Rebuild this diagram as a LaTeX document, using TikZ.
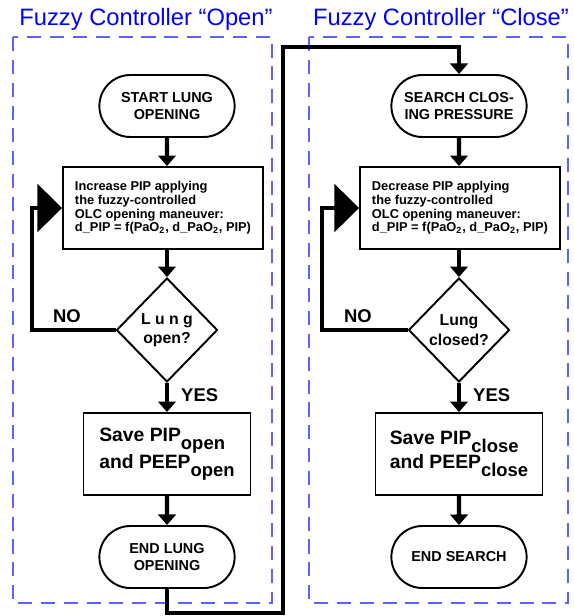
\documentclass[tikz,border=0pt]{standalone}
\usepackage{fontspec}
\setmainfont{Liberation Sans}
\usetikzlibrary{arrows.meta,positioning,shapes.geometric,shapes.misc}
\definecolor{frameblue}{RGB}{96,96,255}
\newcommand{\lowtxt}[1]{\raisebox{-4.5pt}{\fontsize{10.5}{11}\selectfont #1}}

\begin{document}
\begin{tikzpicture}[
  x=0.02cm, y=-0.02cm,
  flow/.style={-{Triangle[width=10pt,length=6pt]}, line width=2.3pt},
  back/.style={-{Triangle[width=27pt,length=14pt]}, line width=2.3pt},
  term/.style={rounded rectangle, draw, line width=1.1pt, minimum width=2.94cm, minimum height=1.24cm, align=center, font=\fontsize{8.2}{10}\selectfont\bfseries},
  proc/.style={rectangle, draw, line width=1.1pt, minimum width=4cm, minimum height=1.64cm, align=left, font=\fontsize{7.3}{7.8}\selectfont\bfseries},
  test/.style={diamond, draw, line width=1.1pt, minimum width=2.02cm, minimum height=2.08cm, inner sep=0pt, align=center, font=\fontsize{9}{11}\selectfont\bfseries},
  savebox/.style={rectangle, draw, line width=1.1pt, minimum width=3.34cm, minimum height=1.64cm, align=left, font=\fontsize{11}{12.5}\selectfont\bfseries},
  answer/.style={font=\fontsize{10.5}{12}\selectfont\bfseries},
  ctrlframe/.style={draw=frameblue, line width=1.1pt, dash pattern=on 8pt off 5pt},
  heading/.style={text=blue, font=\fontsize{13.5}{15}\selectfont}
]
  \useasboundingbox (0,0) rectangle (574,616);

  % controller "Open"
  \begin{scope}[shift={(0,0)}]
    \draw[ctrlframe] (13,37) rectangle (272,603);
    \node[heading] (hopen) at (146,19) {Fuzzy Controller “Open”};
    \node[term] (start) at (167,106) {START LUNG\\OPENING};
    \node[proc] (incr) at (163,208) {Increase PIP applying\\the fuzzy-controlled\\OLC opening maneuver:\\d\_PIP = f(PaO\textsubscript{2}, d\_PaO\textsubscript{2}, PIP)};
    \node[test] (qopen) at (167,330) {L u n g\\open?};
    \node[savebox] (saveo) at (167,454) {Save PIP\lowtxt{open}\\and PEEP\lowtxt{open}};
    \node[term] (endo) at (167,557) {END LUNG\\OPENING};
    \node[answer] (noo) at (67,316) {NO};
    \node[answer, anchor=west] (yeso) at (175,395) {YES};

    \draw[flow] (start) -- (incr.north -| start);
    \draw[flow] (incr.south -| qopen) -- (qopen);
    \draw[flow] (qopen) -- (saveo);
    \draw[flow] (saveo) -- (endo);
    \draw[back] (qopen.west) -- ++(-84,0) |- (incr.west);
  \end{scope}

  % controller "Close"
  \begin{scope}[shift={(292,0)}]
    \draw[ctrlframe] (17,37) rectangle (276,603);
    \node[heading] (hclose) at (149,19) {Fuzzy Controller “Close”};
    \node[term] (search) at (167,106) {SEARCH CLOS-\\ING PRESSURE};
    \node[proc] (decr) at (168,208) {Decrease PIP applying\\the fuzzy-controlled\\OLC opening maneuver:\\d\_PIP = f(PaO\textsubscript{2}, d\_PaO\textsubscript{2}, PIP)};
    \node[test] (qclose) at (167,330) {Lung\\closed?};
    \node[savebox] (savec) at (167,454) {Save PIP\lowtxt{close}\\and PEEP\lowtxt{close}};
    \node[term] (endc) at (167,557) {END SEARCH};
    \node[answer] (noc) at (66,316) {NO};
    \node[answer, anchor=west] (yesc) at (175,395) {YES};

    \draw[flow] (search) -- (decr.north -| search);
    \draw[flow] (decr.south -| qclose) -- (qclose);
    \draw[flow] (qclose) -- (savec);
    \draw[flow] (savec) -- (endc);
    \draw[back] (qclose.west) -- ++(-86,0) |- (decr.west);
  \end{scope}

  % hand-over between the controllers
  \coordinate (jumpdown) at (283,613);
  \coordinate (jumpup) at (283,47);
  \draw[flow] (endo) |- (jumpdown) -- (jumpup) -| (search);
\end{tikzpicture}
\end{document}
